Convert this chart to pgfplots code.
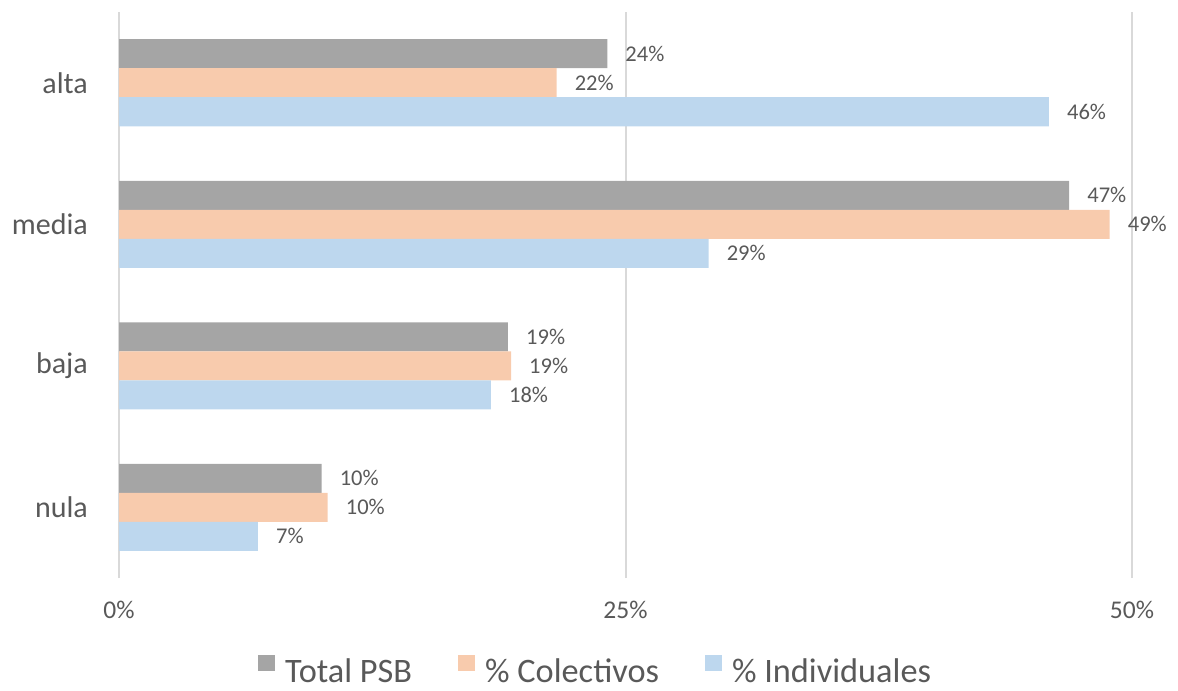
\documentclass[border=0pt]{standalone}
\usepackage{pgfplots}
\pgfplotsset{compat=1.18}
\usepackage{fontspec}
\setmainfont{Carlito}
\definecolor{cgray}{HTML}{A5A5A5}
\definecolor{cpeach}{HTML}{F8CBAD}
\definecolor{cblue}{HTML}{BDD7EE}
\definecolor{ctext}{HTML}{595959}
\definecolor{cgrid}{HTML}{D9D9D9}
\begin{document}
\begin{tikzpicture}
\begin{axis}[
  scale only axis,
  width=1013pt, height=566pt,
  xmin=0, xmax=50, ymin=-0.5, ymax=3.5,
  xbar, bar width=29pt,
  axis line style={draw=none},
  major tick length=0pt,
  /pgf/number format/assume math mode=true,
  xtick={0,25,50}, xticklabels={0\%,25\%,50\%},
  ytick={0,1,2,3}, yticklabels={nula,baja,media,alta},
  xmajorgrids, grid style={cgrid, line width=2pt},
  xticklabel style={font=\fontsize{25.5}{30}\selectfont, text=ctext, anchor=center, yshift=-32pt},
  yticklabel style={font=\fontsize{30}{34}\selectfont, text=ctext, anchor=east, inner sep=0pt, xshift=-31pt},
  point meta=x,
  nodes near coords={\pgfmathprintnumber[fixed,precision=0,assume math mode=true]{\pgfplotspointmeta}\%},
  nodes near coords align={horizontal},
  every node near coord/.append style={anchor=west, inner sep=0pt, xshift=18pt, font=\fontsize{22.5}{26}\selectfont, text=ctext},
  legend style={at={(0.470,-0.162)}, anchor=center, draw=none, fill=none,
    inner sep=0pt, nodes={inner sep=1pt},
    font=\fontsize{34.3}{40}\selectfont, text=ctext,
    /tikz/every odd column/.append style={column sep=9pt},
    /tikz/every even column/.append style={column sep=45pt}},
  legend columns=-1,
  legend image code/.code={\fill[#1] (0pt,0pt) rectangle (17pt,16pt);},
  clip=false,
]
\addplot[fill=cgray, draw=none, bar shift=29pt] coordinates {(10.0,0) (19.2,1) (46.9,2) (24.1,3)};
\addplot[fill=cpeach, draw=none, bar shift=0pt] coordinates {(10.3,0) (19.35,1) (48.9,2) (21.6,3)};
\addplot[fill=cblue, draw=none, bar shift=-29pt] coordinates {(6.86,0) (18.36,1) (29.1,2) (45.9,3)};
\legend{Total PSB, \% Colectivos, \% Individuales}
\end{axis}
\pgfresetboundingbox
\path (current axis.south west) ++(-119pt,-112pt) coordinate (bl);
\path (current axis.north east) ++(46pt,12pt) coordinate (tr);
\path (bl) rectangle (tr);
\end{tikzpicture}
\end{document}
